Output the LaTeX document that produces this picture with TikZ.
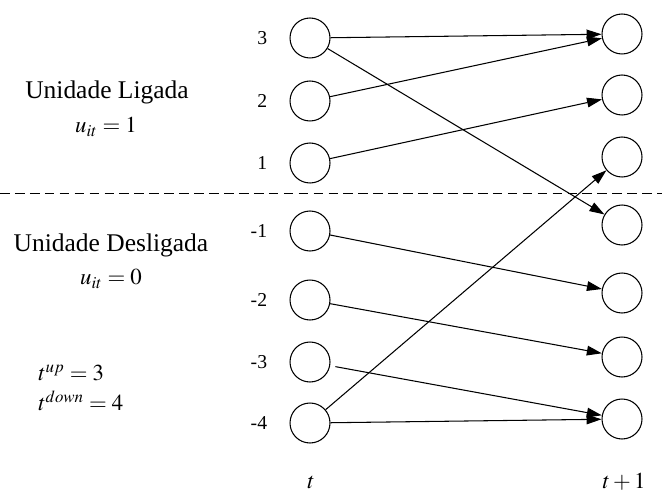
\documentclass[tikz,border=0pt]{standalone}
\usepackage{mathptmx}
\usepackage{fontspec}
\setmainfont{Liberation Serif}
\usepackage{tikz}
\usetikzlibrary{arrows.meta, positioning}

\begin{document}
\begin{tikzpicture}[
  x=0.02cm, y=-0.02cm,
  every node/.style={font=\fontsize{11.2}{13}\selectfont},
  st/.style={circle, draw, line width=0.6pt, minimum size=0.8cm, inner sep=0pt},
  num/.style={anchor=east, inner sep=0pt},
  txt/.style={font=\fontsize{14.5}{17}\selectfont, inner sep=0pt},
  mth/.style={font=\fontsize{13}{15}\selectfont, inner sep=0pt},
  arr/.style={-{Triangle[length=8.5pt,width=5.5pt]}, line width=0.6pt},
]
\useasboundingbox (0,0) rectangle (662,493);

% estados no instante t
\node[st] (l3)  at (310,38)  {};
\node[st] (l2)  at (310,101) {};
\node[st] (l1)  at (310,163) {};
\node[st] (lm1) at (310,231) {};
\node[st] (lm2) at (310,300) {};
\node[st] (lm3) at (310,362) {};
\node[st] (lm4) at (310,423) {};

% estados no instante t+1
\node[st] (r3)  at (622,34)  {};
\node[st] (r2)  at (622,95)  {};
\node[st] (r1)  at (622,157) {};
\node[st] (rm1) at (622,225) {};
\node[st] (rm2) at (622,293) {};
\node[st] (rm3) at (622,357) {};
\node[st] (rm4) at (622,419) {};

\node[num, left=0.44cm of l3]  (n3)  {3};
\node[num, left=0.44cm of l2]  (n2)  {2};
\node[num, left=0.44cm of l1]  (n1)  {1};
\node[num, left=0.44cm of lm1] (nm1) {-1};
\node[num, left=0.44cm of lm2] (nm2) {-2};
\node[num, left=0.44cm of lm3] (nm3) {-3};
\node[num, left=0.44cm of lm4] (nm4) {-4};

\coordinate (sepL) at (0,193);
\coordinate (sepR) at (662,193);
\draw[line width=0.5pt, dash pattern=on 5.5pt off 3pt] (sepL) -- (sepR);

\node[txt] (lig)   at (107,92)  {Unidade Ligada};
\node[mth] (ulig)  at (106,127) {$u_{it} = 1$};
\node[txt] (desl)  at (111,245) {Unidade Desligada};
\node[mth] (udesl) at (111,279) {$u_{it} = 0$};
\node[mth, anchor=west] (tup) at (38,373) {$t^{up} = 3$};
\node[mth, anchor=west] (tdn) at (38,401) {$t^{down} = 4$};

\node[mth] (tt)  at (311,482) {$t$};
\node[mth] (tt1) at (624,482) {$t + 1$};

\draw[arr] (l3)  -- (r3);
\draw[arr] (l3)  -- (rm1);
\draw[arr] (l2)  -- (r3);
\draw[arr] (l1)  -- (r2);
\draw[arr] (lm1) -- (rm2);
\draw[arr] (lm2) -- (rm3);
\draw[arr, shorten <=3pt] (lm3) -- (rm4);
\draw[arr] (lm4) -- (rm4);
\draw[arr] (lm4) -- (r1);

\end{tikzpicture}
\end{document}
